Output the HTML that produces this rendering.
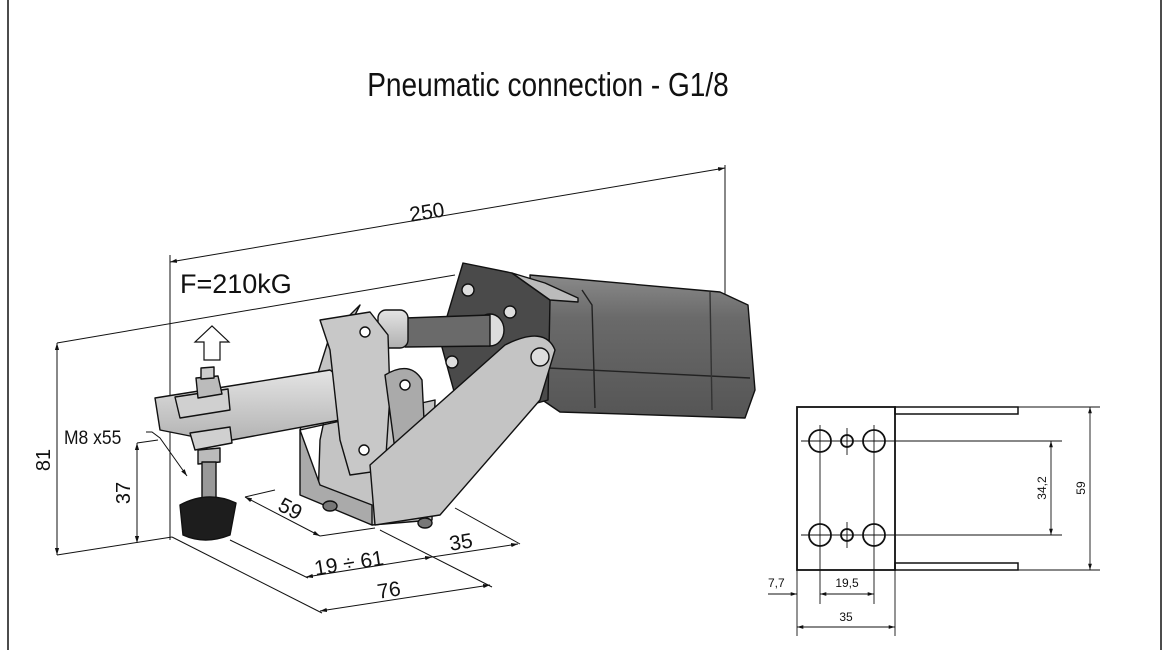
<!DOCTYPE html>
<html><head><meta charset="utf-8"><style>
html,body{margin:0;padding:0;background:#fff;}
svg{display:block;}
text{font-family:"Liberation Sans",sans-serif;fill:#111;}
</style></head><body>
<svg width="1170" height="650" viewBox="0 0 1170 650" xmlns="http://www.w3.org/2000/svg">
<defs>
<marker id="a" viewBox="0 0 10 10" refX="10" refY="5" markerWidth="7" markerHeight="7" orient="auto-start-reverse"><path d="M0,2 L10,5 L0,8 z" fill="#111"/></marker>
<linearGradient id="cyl" x1="0" y1="0" x2="0" y2="1"><stop offset="0" stop-color="#8a8a8a"/><stop offset=".3" stop-color="#6a6a6a"/><stop offset="1" stop-color="#555"/></linearGradient>
<linearGradient id="met" x1="0" y1="0" x2="0" y2="1"><stop offset="0" stop-color="#e4e4e4"/><stop offset="1" stop-color="#b0b0b0"/></linearGradient>
</defs>
<g stroke="#111" stroke-width="1.5"><line x1="8" y1="0" x2="8" y2="650"/><line x1="1161" y1="0" x2="1161" y2="650"/></g>
<text x="548" y="96" font-size="33" text-anchor="middle" transform="translate(548 0) scale(0.85 1) translate(-548 0)">Pneumatic connection - G1/8</text>

<g stroke="#111" stroke-width="1" fill="none">
<line x1="170" y1="262" x2="725" y2="168" marker-start="url(#a)" marker-end="url(#a)"/>
<line x1="170" y1="255" x2="170" y2="540"/>
<line x1="725" y1="165" x2="725" y2="300"/>
<line x1="57" y1="343" x2="455" y2="275"/>
<line x1="57" y1="343" x2="57" y2="555" marker-start="url(#a)" marker-end="url(#a)"/>
<line x1="57" y1="555" x2="172" y2="537"/>
<line x1="137" y1="443" x2="137" y2="543" marker-start="url(#a)" marker-end="url(#a)"/>
<line x1="137" y1="443" x2="158" y2="440"/>
<polyline points="146,432 152,432 160,438 187,476" marker-end="url(#a)"/>
<line x1="172" y1="537" x2="322" y2="613"/>
<line x1="230" y1="540" x2="308" y2="578"/>
<line x1="320" y1="611" x2="490" y2="585" marker-start="url(#a)" marker-end="url(#a)"/>
<line x1="306" y1="577" x2="432" y2="557" marker-start="url(#a)" marker-end="url(#a)"/>
<line x1="432" y1="557" x2="518" y2="544" marker-end="url(#a)"/>
<line x1="245" y1="497" x2="320" y2="536" marker-start="url(#a)" marker-end="url(#a)"/>
<line x1="245" y1="497" x2="275" y2="490"/>
<line x1="320" y1="536" x2="375" y2="528"/>
<line x1="380" y1="530" x2="492" y2="587"/>
<line x1="455" y1="508" x2="520" y2="544"/>
</g>
<text x="428" y="219" font-size="21" transform="rotate(-9 428 219)" text-anchor="middle">250</text>
<text x="180" y="293" font-size="27">F=210kG</text>
<text x="64" y="444" font-size="19" transform="translate(64 0) scale(0.92 1) translate(-64 0)">M8 x55</text>
<text x="50" y="460" font-size="20" transform="rotate(-90 50 460)" text-anchor="middle">81</text>
<text x="130" y="493" font-size="20" transform="rotate(-90 130 493)" text-anchor="middle">37</text>
<text x="287" y="515" font-size="21" transform="rotate(28 287 515)" text-anchor="middle">59</text>
<text x="350" y="570" font-size="21" transform="rotate(-9 350 570)" text-anchor="middle">19 ÷ 61</text>
<text x="462" y="549" font-size="21" transform="rotate(-9 462 549)" text-anchor="middle">35</text>
<text x="390" y="597" font-size="21" transform="rotate(-9 390 597)" text-anchor="middle">76</text>
<path d="M204,360 L204,342 L195,342 L212,326 L229,342 L220,342 L220,360 Z" fill="#fff" stroke="#111" stroke-width="1.2"/>

<g stroke="#111" stroke-width="1.4" stroke-linejoin="round">
<path d="M530,275 L720,292 L748,305 L755,390 L745,418 L560,412 L535,395 Z" fill="url(#cyl)"/>
<path d="M548,368 L750,378" stroke="#222" fill="none"/>
<path d="M582,290 L592,305 L595,408" fill="none" stroke="#222"/>
<path d="M710,292 L712,410" fill="none" stroke="#333"/>
<path d="M463,263 L512,273 L550,300 L548,400 L505,412 L455,395 L440,340 Z" fill="#4a4a4a"/>
<path d="M512,273 L550,300 L578,302 L578,298 L545,283 Z" fill="#bbb"/>
<circle cx="468" cy="290" r="6" fill="#ddd"/><circle cx="510" cy="312" r="6" fill="#ddd"/><circle cx="452" cy="362" r="6" fill="#ddd"/>
<ellipse cx="490" cy="330" rx="14" ry="16" fill="#ddd"/>
<path d="M405,318 L490,315 L490,346 L405,347 Z" fill="#6a6a6a"/>
<rect x="378" y="310" width="30" height="38" rx="8" fill="url(#met)"/>
<path d="M300,430 L330,335 L360,305 L340,345 L320,440 L318,500 L372,525 L432,520 L435,400 Z" fill="#c4c4c4"/>
<path d="M300,430 L300,495 L372,525 L372,505 L320,485 Z" fill="#aaa"/>
<path d="M155,398 L330,370 L340,378 L340,420 L205,445 L200,438 L160,430 Z" fill="url(#met)"/>
<path d="M175,397 L228,389 L230,410 L180,418 Z" fill="#d0d0d0"/>
<path d="M190,433 L230,427 L232,443 L195,450 Z" fill="#d0d0d0"/>
<path d="M196,378 L218,376 L222,394 L198,398 Z" fill="#bbb"/>
<path d="M201,368 L214,367 L214,378 L201,379 Z" fill="#ccc"/>
<path d="M198,450 L220,448 L220,462 L198,464 Z" fill="#bbb"/>
<rect x="202" y="462" width="14" height="38" fill="#999"/>
<path d="M180,505 Q208,490 236,503 L230,535 Q205,545 183,535 Z" fill="#1d1d1d"/>
<path d="M320,320 L370,312 L388,335 L390,395 L385,470 L350,475 L340,440 L330,350 Z" fill="#c8c8c8"/>
<circle cx="365" cy="332" r="5" fill="#fff"/><circle cx="364" cy="450" r="5" fill="#fff"/>
<path d="M385,375 Q410,360 422,380 L425,440 L395,450 Z" fill="#aaa"/>
<circle cx="405" cy="385" r="5" fill="#fff"/>
<path d="M370,465 L505,345 Q545,325 555,350 L540,400 L440,515 L375,525 Z" fill="#c4c4c4"/>
<circle cx="540" cy="357" r="9" fill="#ddd"/>
<ellipse cx="330" cy="506" rx="7" ry="5" fill="#777"/><ellipse cx="425" cy="523" rx="7" ry="5" fill="#777"/>
</g>

<g stroke="#111" fill="none">
<rect x="797" y="407" width="98" height="163" stroke-width="1.8"/>
<rect x="895" y="407" width="123" height="7" stroke-width="1.5"/>
<rect x="895" y="563" width="123" height="7" stroke-width="1.5"/>
<g stroke-width="1.8"><circle cx="820" cy="441" r="11"/><circle cx="847" cy="441" r="6"/><circle cx="874" cy="441" r="11"/>
<circle cx="820" cy="535" r="11"/><circle cx="847" cy="535" r="6"/><circle cx="874" cy="535" r="11"/></g>
<g stroke-width="0.9">
<line x1="801" y1="441" x2="1062" y2="441"/><line x1="801" y1="535" x2="1062" y2="535"/>
<line x1="820" y1="425" x2="820" y2="604"/><line x1="874" y1="425" x2="874" y2="604"/>
<line x1="847" y1="428" x2="847" y2="455"/><line x1="847" y1="522" x2="847" y2="548"/>
<line x1="1018" y1="407" x2="1100" y2="407"/><line x1="1018" y1="570" x2="1100" y2="570"/>
<line x1="1051" y1="441" x2="1051" y2="535" marker-start="url(#a)" marker-end="url(#a)"/>
<line x1="1090" y1="407" x2="1090" y2="570" marker-start="url(#a)" marker-end="url(#a)"/>
<line x1="797" y1="570" x2="797" y2="636"/><line x1="895" y1="570" x2="895" y2="636"/>
<line x1="768" y1="594" x2="797" y2="594" marker-end="url(#a)"/>
<line x1="820" y1="594" x2="874" y2="594" marker-start="url(#a)" marker-end="url(#a)"/>
<line x1="797" y1="627" x2="895" y2="627" marker-start="url(#a)" marker-end="url(#a)"/>
</g></g>
<g font-size="12">
<text x="768" y="587">7,7</text>
<text x="847" y="587" text-anchor="middle">19,5</text>
<text x="846" y="621" text-anchor="middle">35</text>
<text x="1046" y="488" text-anchor="middle" transform="rotate(-90 1046 488)">34,2</text>
<text x="1085" y="488" text-anchor="middle" transform="rotate(-90 1085 488)">59</text>
</g>
</svg>
</body></html>
